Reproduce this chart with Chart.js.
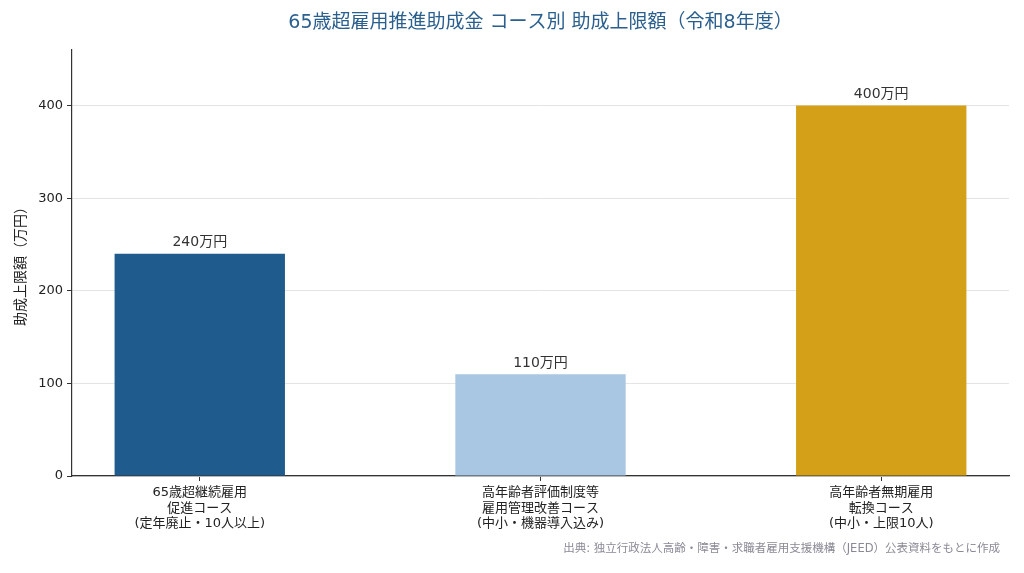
<!DOCTYPE html>
<html>
<head>
<meta charset="utf-8">
<script src="https://cdn.jsdelivr.net/npm/chart.js@4/dist/chart.umd.min.js"></script>
<style>
  html, body { margin: 0; padding: 0; background: #fff; }
  #wrap { width: 1024px; height: 573px; }
</style>
</head>
<body>
<div id="wrap"><canvas id="myChart"></canvas></div>
<script>
// chart data
var categories = [
    ['65歳超継続雇用', '促進コース', '(定年廃止・10人以上)'],
    ['高年齢者評価制度等', '雇用管理改善コース', '(中小・機器導入込み)'],
    ['高年齢者無期雇用', '転換コース', '(中小・上限10人)']
];
var amounts = [240, 110, 400];
var barColors = ['#1f5b8c', '#a9c7e2', '#d4a017'];
var yTicks = [0, 100, 200, 300, 400];

var titleText = '65歳超雇用推進助成金 コース別 助成上限額（令和8年度）';
var sourceText = '出典: 独立行政法人高齢・障害・求職者雇用支援機構（JEED）公表資料をもとに作成';
var fontFamily = '"DejaVu Sans", "Noto Sans CJK JP", sans-serif';

// title, source and value labels drawn on the canvas
var textPlugin = {
    id: 'textPlugin',
    afterDatasetsDraw: function(chart){
        var ctx = chart.ctx;
        var area = chart.chartArea;
        ctx.save();

        // value labels above each bar
        ctx.font = '14px ' + fontFamily;
        ctx.fillStyle = '#333333';
        ctx.textAlign = 'center';
        ctx.textBaseline = 'bottom';
        chart.getDatasetMeta(0).data.forEach(function(bar, i){
            ctx.fillText(amounts[i] + '万円', bar.x, bar.y - 4);
        });

        // title
        ctx.font = '19px ' + fontFamily;
        ctx.fillStyle = '#2b5f8e';
        ctx.textBaseline = 'middle';
        ctx.fillText(titleText, (area.left + area.right) / 2, 23);

        // source note
        ctx.font = '11.5px ' + fontFamily;
        ctx.fillStyle = '#8a8a96';
        ctx.textAlign = 'right';
        ctx.fillText(sourceText, 1000, 549);

        ctx.restore();
    }
};

var points = amounts.map(function(v, i){ return { x: i, y: v }; });

var ctx = document.getElementById('myChart').getContext('2d');
Chart.defaults.font.family = fontFamily;

var myChart = new Chart(ctx, {
    type: 'bar',
    data: {
        datasets: [{
            data: points,
            backgroundColor: barColors,
            borderWidth: 0,
            barPercentage: 0.5,
            categoryPercentage: 1
        }]
    },
    options: {
        responsive: true,
        maintainAspectRatio: false,
        animation: false,
        layout: { padding: { top: 50, right: 15, left: 0, bottom: 0 } },
        plugins: {
            legend: { display: false },
            tooltip: { enabled: false }
        },
        scales: {
            x: {
                type: 'linear',
                min: -0.375,
                max: 2.375,
                offset: false,
                afterBuildTicks: function(scale){
                    scale.ticks = categories.map(function(c, i){ return { value: i }; });
                },
                afterFit: function(scale){ scale.height = 97; },
                ticks: {
                    color: '#222222',
                    font: { size: 13 },
                    padding: 4,
                    maxRotation: 0,
                    autoSkip: false,
                    callback: function(value){ return categories[value]; }
                },
                grid: {
                    offset: false,
                    drawOnChartArea: false,
                    drawTicks: true,
                    tickLength: 5,
                    tickColor: '#333333'
                },
                border: { color: '#333333', width: 1.2 }
            },
            y: {
                min: 0,
                max: 460,
                afterBuildTicks: function(scale){
                    scale.ticks = yTicks.map(function(v){ return { value: v }; });
                },
                afterFit: function(scale){ scale.width = 72; },
                ticks: {
                    color: '#222222',
                    font: { size: 13 },
                    padding: 4
                },
                grid: {
                    color: '#e4e4e4',
                    tickLength: 5,
                    tickColor: '#333333'
                },
                border: { color: '#333333', width: 1.2 },
                title: {
                    display: true,
                    text: '助成上限額（万円）',
                    color: '#222222',
                    font: { size: 14 },
                    padding: { top: 13, bottom: 0 }
                }
            }
        }
    },
    plugins: [textPlugin]
});
</script>
</body>
</html>
